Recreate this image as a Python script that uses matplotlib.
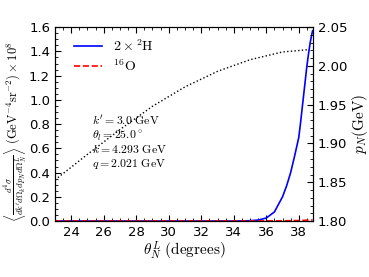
import numpy as np
import matplotlib
matplotlib.use("Agg")
import matplotlib.pyplot as plt
from matplotlib.ticker import MultipleLocator

plt.rcParams['mathtext.fontset'] = 'cm'

# cross section (x 1e8) vs nucleon angle
theta_h = [23.0, 30.0, 34.0, 34.5, 35.0, 35.5, 36.0, 36.5, 37.0, 37.25, 37.5, 37.75,
           38.0, 38.1, 38.2, 38.3, 38.4, 38.5, 38.6, 38.7, 38.8, 38.85]
sigma_h = [0.0, 0.0, 0.0, 0.001, 0.003, 0.008, 0.025, 0.075, 0.20, 0.29, 0.40, 0.54,
           0.69, 0.80, 0.92, 1.04, 1.16, 1.28, 1.38, 1.47, 1.54, 1.57]

theta_o = [23.0, 34.0, 36.0, 37.0, 38.0, 38.5, 38.85]
sigma_o = [0.0, 0.0, 0.001, 0.002, 0.004, 0.007, 0.009]

# nucleon momentum (right axis)
theta_p = [23.0, 25.0, 27.0, 29.0, 31.0, 33.0, 35.0, 37.0, 38.6]
p_n = [1.853, 1.886, 1.918, 1.948, 1.973, 1.993, 2.008, 2.018, 2.021]

fig = plt.figure(figsize=(3.69, 2.77), dpi=100)
ax = fig.add_axes([0.149, 0.202, 0.699, 0.7])

ax.plot(theta_h, sigma_h, color='blue', lw=1.2, label=r'$2\times{}^{2}\mathrm{H}$')
ax.plot(theta_o, sigma_o, color='red', lw=1.2, ls='--', label=r'${}^{16}\mathrm{O}$')
ax.set_xlim(23, 38.87)
ax.set_ylim(0, 1.6)
ax.xaxis.set_major_locator(MultipleLocator(2))
ax.xaxis.set_minor_locator(MultipleLocator(0.5))
ax.yaxis.set_major_locator(MultipleLocator(0.2))
ax.yaxis.set_minor_locator(MultipleLocator(0.05))
ax.tick_params(which='both', direction='in', top=True, labelsize=9.5)
ax.tick_params(which='major', length=4)
ax.tick_params(which='minor', length=2)
ax.set_xlabel(r'$\theta_N^L\ \mathrm{(degrees)}$', fontsize=11, labelpad=1)
ax.set_ylabel(r'$\left\langle\frac{d^4\sigma}{dk^{\prime}d\Omega_k dp_N d\Omega_N^L}\right\rangle\ \mathrm{(GeV^{-4}sr^{-2})}\times10^8$',
              fontsize=9, labelpad=0)
ax.yaxis.set_label_coords(-0.105, 0.46)
ax.legend(loc='upper left', frameon=False, fontsize=10, handlelength=2.0,
          bbox_to_anchor=(0.03, 1.0), borderaxespad=0.4, labelspacing=0.3)

ax.text(25.3, 0.79, r"$k^{\prime}=3.0\ \mathrm{GeV}$", fontsize=8.5)
ax.text(25.3, 0.675, r"$\theta_l=25.0^\circ$", fontsize=8.5)
ax.text(25.3, 0.56, r"$k=4.293\ \mathrm{GeV}$", fontsize=8.5)
ax.text(25.3, 0.445, r"$q=2.021\ \mathrm{GeV}$", fontsize=8.5)

ax2 = ax.twinx()
ax2.plot(theta_p, p_n, color='black', ls=':', lw=1.0)
ax2.set_ylim(1.80, 2.05)
ax2.yaxis.set_major_locator(MultipleLocator(0.05))
ax2.yaxis.set_minor_locator(MultipleLocator(0.01))
ax2.tick_params(which='both', direction='in', labelsize=9.5)
ax2.tick_params(which='major', length=4)
ax2.tick_params(which='minor', length=2)
ax2.set_ylabel(r'$p_N\mathrm{(GeV)}$', fontsize=11, labelpad=2)

fig.savefig('out.png', dpi=100)
